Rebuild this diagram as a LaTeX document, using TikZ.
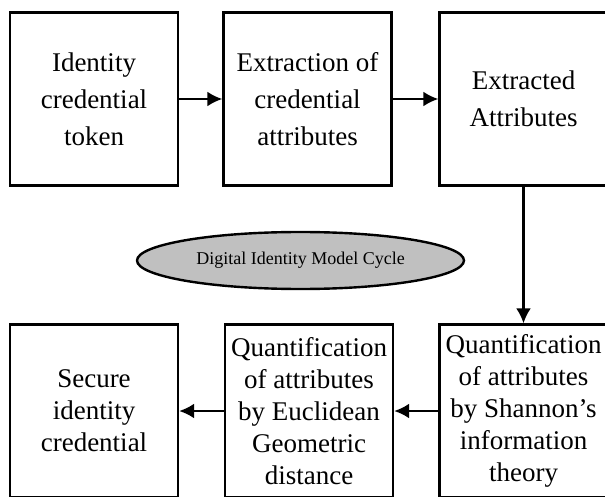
\documentclass[tikz,border=0pt]{standalone}
\usepackage{fontspec}
\setmainfont{Liberation Serif}
\usetikzlibrary{arrows.meta,shapes.geometric}
\definecolor{cyclegray}{RGB}{192,192,192}

\begin{document}
\begin{tikzpicture}[x=1pt,y=-1pt,>={Latex[length=15pt,width=15pt]},
    stage/.style={draw,line width=2.4pt,minimum width=168pt,minimum height=173pt,
      inner sep=0pt,align=center,font=\fontsize{27}{32}\selectfont},
    toprow/.style={stage,font=\fontsize{27}{37}\selectfont},
    flow/.style={->,line width=2.2pt},
    cycle/.style={ellipse,draw,line width=2.4pt,fill=cyclegray,inner sep=0pt,
      minimum width=327pt,minimum height=57pt,font=\fontsize{18}{20}\selectfont}]
    \useasboundingbox (0,0) rectangle (605,497);
    % top row
    \node[toprow](token) at (94,99){Identity\\credential\\token};
    \node[toprow](extraction) at (307.5,99){Extraction of\\credential\\attributes};
    \node[toprow](extracted) at (523.5,99){Extracted\\Attributes};
    % bottom row
    \node[stage](secure) at (94,411){Secure\\identity\\credential};
    \node[stage](euclid) at (309,411){Quantification\\of attributes\\by Euclidean\\Geometric\\distance};
    \node[stage](shannon) at (523.5,411){Quantification\\of attributes\\by Shannon's\\information\\theory};
    \node[cycle](model) at (300.5,260.5){Digital Identity Model Cycle};
    \draw[flow](token)--(extraction);
    \draw[flow](extraction)--(extracted);
    \draw[flow](extracted)--(shannon);
    \draw[flow](shannon)--(euclid);
    \draw[flow](euclid)--(secure);
\end{tikzpicture}
\end{document}
